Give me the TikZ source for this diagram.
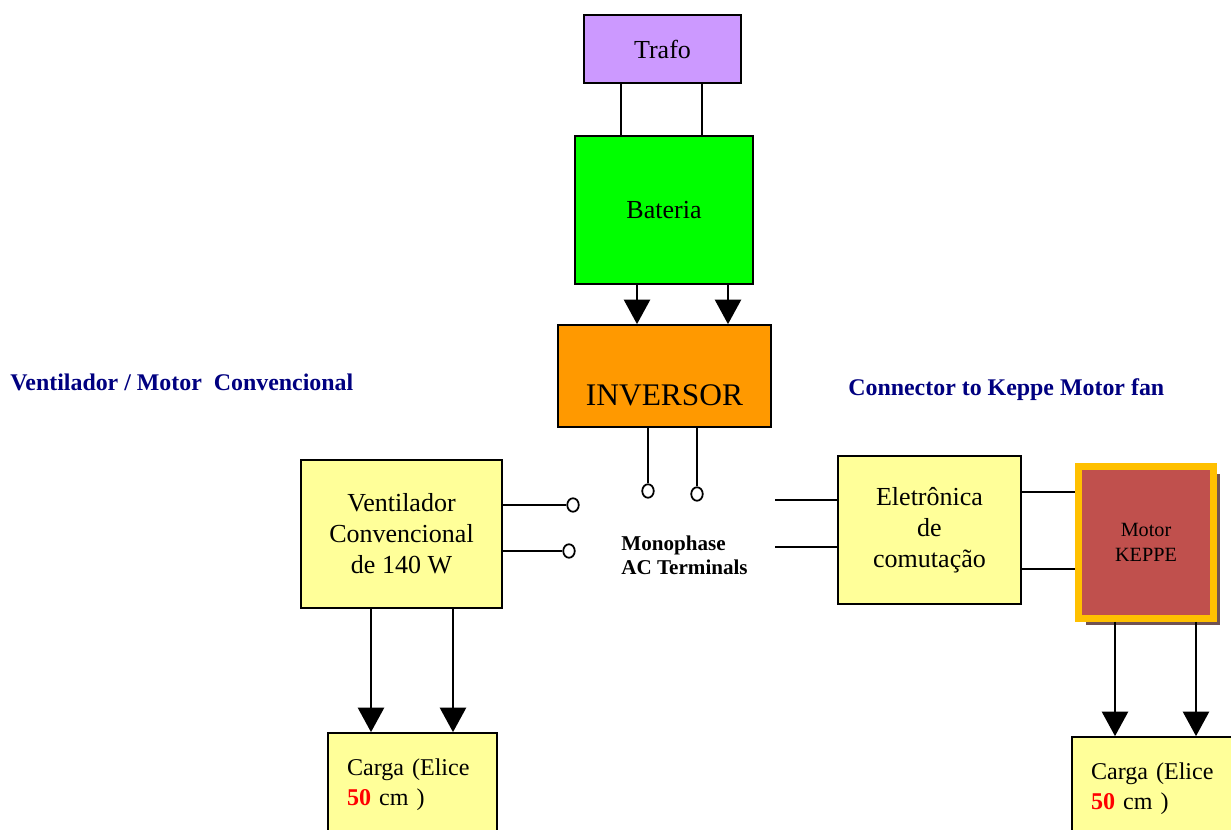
\documentclass[tikz,border=0pt]{standalone}
\usepackage{fontspec}
\setmainfont{Liberation Serif}
\usetikzlibrary{arrows.meta,shapes.geometric,shadows}
\definecolor{trafoc}{HTML}{CC99FF}
\definecolor{batc}{HTML}{00FF00}
\definecolor{invc}{HTML}{FF9900}
\definecolor{boxc}{HTML}{FFFF99}
\definecolor{motc}{HTML}{C0504D}
\definecolor{motb}{HTML}{FFC000}
\definecolor{shadc}{RGB}{112,82,82}
\definecolor{ttlc}{HTML}{000080}
\begin{document}
\begin{tikzpicture}[x=0.02cm,y=-0.02cm,
  blk/.style={draw, line width=1pt, rectangle, inner sep=0pt, align=center,
    font=\fontsize{14.8}{17.6}\selectfont},
  arr/.style={line width=1pt, -{Triangle[width=15pt,length=14pt]}},
  wire/.style={line width=1pt},
  term/.style={draw, line width=1pt, ellipse, fill=white, inner sep=0pt,
    minimum width=0.23cm, minimum height=0.27cm},
  ttl/.style={anchor=west, inner xsep=0pt, text=ttlc, font=\fontsize{13.6}{16}\selectfont\bfseries}]
\clip (0,0) rectangle (1231,830);
% titles
\node[ttl] (ttlconv) at (10,382) {Ventilador / Motor\ \ Convencional};
\node[ttl] (ttlkep) at (848,390) {Connector to Keppe Motor fan};
% supply chain
\node[blk, fill=trafoc, minimum width=3.14cm, minimum height=1.36cm] (trafo) at (662.5,49) {Trafo};
\node[blk, fill=batc, minimum width=3.56cm, minimum height=2.96cm] (bat) at (664,210) {Bateria};
\node[blk, fill=invc, minimum width=4.26cm, minimum height=2.04cm] (inv) at (664.5,376) {};
\node[font=\fontsize{17.9}{20}\selectfont] (invtxt) at (664.5,395) {INVERSOR};
\draw[wire] (trafo.south -| 621,0) -- (bat.north -| 621,0);
\draw[wire] (trafo.south -| 702,0) -- (bat.north -| 702,0);
\draw[arr] (bat.south -| 637,0) -- (inv.north -| 637,0);
\draw[arr] (bat.south -| 728,0) -- (inv.north -| 728,0);
% terminals
\node[term] (t1) at (648,491) {};
\node[term] (t2) at (697,494) {};
\node[term] (t3) at (573,505) {};
\node[term] (t4) at (569,551) {};
\draw[wire] (inv.south -| t1) -- (t1);
\draw[wire] (inv.south -| t2) -- (t2);
\node[anchor=west, inner xsep=0pt, align=left, font=\fontsize{12}{13.6}\selectfont\bfseries] (mono) at (621,555) {Monophase\\AC Terminals};
% conventional fan
\node[blk, fill=boxc, minimum width=4.02cm, minimum height=2.96cm] (vent) at (401.5,534) {Ventilador\\Convencional\\de 140 W};
\draw[wire] (vent.east |- t3) -- (t3);
\draw[wire] (vent.east |- t4) -- (t4);
\node[blk, fill=boxc, minimum width=3.38cm, minimum height=2.08cm, text width=2.62cm, align=left,
  font=\fontsize{13.7}{17}\selectfont] (cargal) at (412.5,785) {Carga (Elice\\\textcolor{red}{\bfseries 50} cm )};
\draw[arr] (vent.south -| 371,0) -- (cargal.north -| 371,0);
\draw[arr] (vent.south -| 453,0) -- (cargal.north -| 453,0);
% keppe motor
\coordinate (c1) at (775,500);
\coordinate (c2) at (775,547);
\node[blk, fill=boxc, minimum width=3.66cm, minimum height=2.96cm] (eln) at (929.5,530) {Eletrônica\\de\\comutação};
\draw[wire] (c1) -- (eln.west |- c1);
\draw[wire] (c2) -- (eln.west |- c2);
\node[blk, fill=motc, draw=motb, line width=4pt, minimum width=2.7cm, minimum height=3.04cm,
  font=\fontsize{11.5}{14}\selectfont,
  drop shadow={shadow xshift=0.14cm, shadow yshift=-0.14cm, fill=shadc, opacity=1}] (motor) at (1146,542.5) {Motor\\KEPPE};
\draw[wire] (eln.east |- 0,492) -- (motor.west |- 0,492);
\draw[wire] (eln.east |- 0,569) -- (motor.west |- 0,569);
\node[blk, fill=boxc, minimum width=3.56cm, minimum height=2.08cm, text width=2.8cm, align=left,
  font=\fontsize{13.7}{17}\selectfont] (cargar) at (1161,789) {Carga (Elice\\\textcolor{red}{\bfseries 50} cm )};
\draw[arr] (motor.south -| 1115,0) -- (cargar.north -| 1115,0);
\draw[arr] (motor.south -| 1196,0) -- (cargar.north -| 1196,0);
\end{tikzpicture}
\end{document}
